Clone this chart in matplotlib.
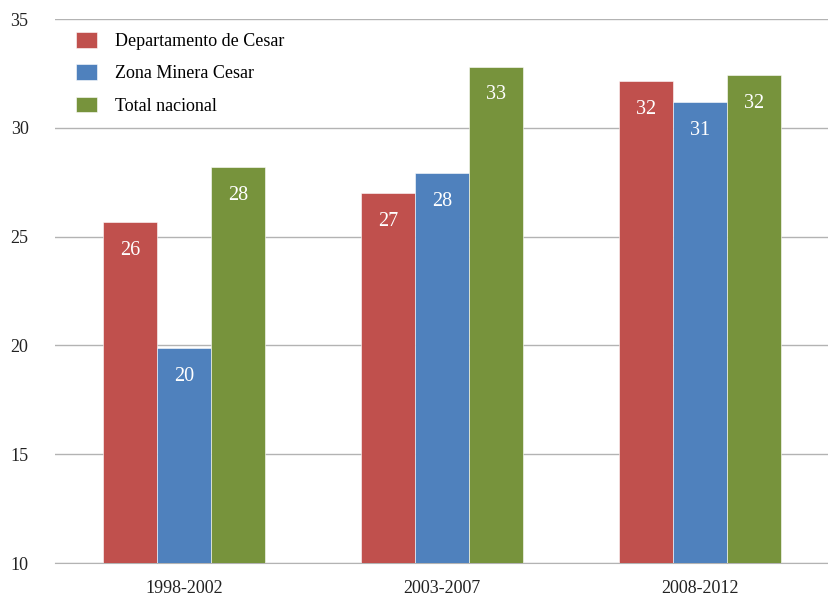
import numpy as np
import matplotlib

matplotlib.use("Agg")
import matplotlib.pyplot as plt

plt.rcParams["font.family"] = ["Liberation Serif", "DejaVu Serif"]

periods = ["1998-2002", "2003-2007", "2008-2012"]
series_names = ["Departamento de Cesar", "Zona Minera Cesar", "Total nacional"]
dept_cesar = [25.67, 27.0, 32.15]
zona_minera = [19.88, 27.92, 31.19]
total_nacional = [28.2, 32.8, 32.43]
y_ticks = [10, 15, 20, 25, 30, 35]

colors = ["#C0504D", "#4F81BD", "#77933C"]

fig = plt.figure(figsize=(8.29, 5.98), dpi=100)
ax = fig.add_axes([0.0663, 0.0585, 0.9337, 0.9095])

x = np.arange(len(periods))
width = 0.21
series = [dept_cesar, zona_minera, total_nacional]
for i, (name, vals, col) in enumerate(zip(series_names, series, colors)):
    bars = ax.bar(x + (i - 1) * width, vals, width, bottom=0, color=col,
                  edgecolor="white", linewidth=0.4, label=name, zorder=3)
    for b, v in zip(bars, vals):
        ax.annotate(f"{v:.0f}", (b.get_x() + b.get_width() / 2, v),
                    xytext=(0, -28), textcoords="offset pixels",
                    ha="center", va="center", color="white", fontsize=14.5,
                    zorder=4)

ax.set_ylim(10, 35)
ax.set_xlim(-0.5, 2.5)
ax.set_yticks(y_ticks)
ax.set_xticks(x)
ax.set_xticklabels(periods)
ax.yaxis.grid(True, color="#b3b3b3", linewidth=1.0, zorder=0)
ax.tick_params(axis="both", length=0, labelsize=13, colors="#222222")
ax.tick_params(axis="y", pad=19)
ax.tick_params(axis="x", pad=12)
for side in ["top", "right", "left"]:
    ax.spines[side].set_visible(False)
ax.spines["bottom"].set_color("#b3b3b3")

leg = ax.legend(loc="upper left", bbox_to_anchor=(0.009, 1.003), frameon=False,
                fontsize=13, labelspacing=0.8, handlelength=1.15,
                handleheight=0.95, handletextpad=1.0, borderaxespad=0.4)

fig.savefig("out.png", dpi=100)
